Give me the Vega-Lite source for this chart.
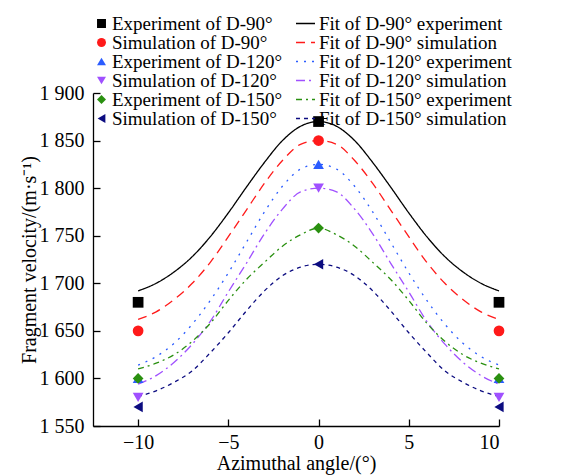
{
  "$schema": "https://vega.github.io/schema/vega-lite/v6.json",
  "width": 406,
  "height": 333,
  "autosize": {"type": "none"},
  "padding": {"left": 93, "top": 93, "right": 80, "bottom": 49},
  "background": "white",
  "config": {
    "font": "Liberation Serif",
    "view": {"stroke": null},
    "axis": {
      "grid": false,
      "domainColor": "black",
      "domainWidth": 1.3,
      "tickColor": "black",
      "tickWidth": 1.3,
      "tickSize": -7,
      "labelColor": "black",
      "titleColor": "black",
      "labelFont": "Liberation Serif",
      "titleFont": "Liberation Serif",
      "labelFontSize": 20,
      "titleFontSize": 20,
      "titleFontWeight": "normal"
    },
    "legend": {
      "orient": "none",
      "labelFont": "Liberation Serif",
      "labelFontSize": 19,
      "labelColor": "black",
      "labelLimit": 400,
      "padding": 0,
      "title": null
    }
  },
  "datasets": {
    "pts": [
      {"angle": -10, "velocity": 1680, "series": "Experiment of D-90°"},
      {"angle": 0, "velocity": 1870, "series": "Experiment of D-90°"},
      {"angle": 10, "velocity": 1680, "series": "Experiment of D-90°"},
      {"angle": -10, "velocity": 1650, "series": "Simulation of D-90°"},
      {"angle": 0, "velocity": 1850, "series": "Simulation of D-90°"},
      {"angle": 10, "velocity": 1650, "series": "Simulation of D-90°"},
      {"angle": -10, "velocity": 1600, "series": "Experiment of D-120°"},
      {"angle": 0, "velocity": 1825, "series": "Experiment of D-120°"},
      {"angle": 10, "velocity": 1600, "series": "Experiment of D-120°"},
      {"angle": -10, "velocity": 1580, "series": "Simulation of D-120°"},
      {"angle": 0, "velocity": 1800, "series": "Simulation of D-120°"},
      {"angle": 10, "velocity": 1580, "series": "Simulation of D-120°"},
      {"angle": -10, "velocity": 1600, "series": "Experiment of D-150°"},
      {"angle": 0, "velocity": 1758, "series": "Experiment of D-150°"},
      {"angle": 10, "velocity": 1600, "series": "Experiment of D-150°"},
      {"angle": -10, "velocity": 1570, "series": "Simulation of D-150°"},
      {"angle": 0, "velocity": 1720, "series": "Simulation of D-150°"},
      {"angle": 10, "velocity": 1570, "series": "Simulation of D-150°"}
    ],
    "fits": [
      {"angle": -10, "velocity": 1692, "fit": "Fit of D-90° experiment"},
      {"angle": -9, "velocity": 1700, "fit": "Fit of D-90° experiment"},
      {"angle": -8, "velocity": 1712, "fit": "Fit of D-90° experiment"},
      {"angle": -7, "velocity": 1728, "fit": "Fit of D-90° experiment"},
      {"angle": -6, "velocity": 1749, "fit": "Fit of D-90° experiment"},
      {"angle": -5, "velocity": 1774, "fit": "Fit of D-90° experiment"},
      {"angle": -4, "velocity": 1801, "fit": "Fit of D-90° experiment"},
      {"angle": -3, "velocity": 1827, "fit": "Fit of D-90° experiment"},
      {"angle": -2, "velocity": 1850, "fit": "Fit of D-90° experiment"},
      {"angle": -1, "velocity": 1865, "fit": "Fit of D-90° experiment"},
      {"angle": 0, "velocity": 1870, "fit": "Fit of D-90° experiment"},
      {"angle": 1, "velocity": 1865, "fit": "Fit of D-90° experiment"},
      {"angle": 2, "velocity": 1850, "fit": "Fit of D-90° experiment"},
      {"angle": 3, "velocity": 1827, "fit": "Fit of D-90° experiment"},
      {"angle": 4, "velocity": 1801, "fit": "Fit of D-90° experiment"},
      {"angle": 5, "velocity": 1774, "fit": "Fit of D-90° experiment"},
      {"angle": 6, "velocity": 1749, "fit": "Fit of D-90° experiment"},
      {"angle": 7, "velocity": 1728, "fit": "Fit of D-90° experiment"},
      {"angle": 8, "velocity": 1712, "fit": "Fit of D-90° experiment"},
      {"angle": 9, "velocity": 1700, "fit": "Fit of D-90° experiment"},
      {"angle": 10, "velocity": 1692, "fit": "Fit of D-90° experiment"},

      {"angle": -10, "velocity": 1662, "fit": "Fit of D-90° simulation"},
      {"angle": -9, "velocity": 1670, "fit": "Fit of D-90° simulation"},
      {"angle": -8, "velocity": 1683, "fit": "Fit of D-90° simulation"},
      {"angle": -7, "velocity": 1700, "fit": "Fit of D-90° simulation"},
      {"angle": -6, "velocity": 1722, "fit": "Fit of D-90° simulation"},
      {"angle": -5, "velocity": 1749, "fit": "Fit of D-90° simulation"},
      {"angle": -4, "velocity": 1777, "fit": "Fit of D-90° simulation"},
      {"angle": -3, "velocity": 1805, "fit": "Fit of D-90° simulation"},
      {"angle": -2, "velocity": 1829, "fit": "Fit of D-90° simulation"},
      {"angle": -1, "velocity": 1846, "fit": "Fit of D-90° simulation"},
      {"angle": 0, "velocity": 1850, "fit": "Fit of D-90° simulation"},
      {"angle": 1, "velocity": 1846, "fit": "Fit of D-90° simulation"},
      {"angle": 2, "velocity": 1829, "fit": "Fit of D-90° simulation"},
      {"angle": 3, "velocity": 1805, "fit": "Fit of D-90° simulation"},
      {"angle": 4, "velocity": 1777, "fit": "Fit of D-90° simulation"},
      {"angle": 5, "velocity": 1749, "fit": "Fit of D-90° simulation"},
      {"angle": 6, "velocity": 1722, "fit": "Fit of D-90° simulation"},
      {"angle": 7, "velocity": 1700, "fit": "Fit of D-90° simulation"},
      {"angle": 8, "velocity": 1683, "fit": "Fit of D-90° simulation"},
      {"angle": 9, "velocity": 1670, "fit": "Fit of D-90° simulation"},
      {"angle": 10, "velocity": 1662, "fit": "Fit of D-90° simulation"},

      {"angle": -10, "velocity": 1614, "fit": "Fit of D-120° experiment"},
      {"angle": -9, "velocity": 1623, "fit": "Fit of D-120° experiment"},
      {"angle": -8, "velocity": 1637, "fit": "Fit of D-120° experiment"},
      {"angle": -7, "velocity": 1657, "fit": "Fit of D-120° experiment"},
      {"angle": -6, "velocity": 1682, "fit": "Fit of D-120° experiment"},
      {"angle": -5, "velocity": 1711, "fit": "Fit of D-120° experiment"},
      {"angle": -4, "velocity": 1743, "fit": "Fit of D-120° experiment"},
      {"angle": -3, "velocity": 1775, "fit": "Fit of D-120° experiment"},
      {"angle": -2, "velocity": 1802, "fit": "Fit of D-120° experiment"},
      {"angle": -1, "velocity": 1820, "fit": "Fit of D-120° experiment"},
      {"angle": 0, "velocity": 1825, "fit": "Fit of D-120° experiment"},
      {"angle": 1, "velocity": 1820, "fit": "Fit of D-120° experiment"},
      {"angle": 2, "velocity": 1802, "fit": "Fit of D-120° experiment"},
      {"angle": 3, "velocity": 1775, "fit": "Fit of D-120° experiment"},
      {"angle": 4, "velocity": 1743, "fit": "Fit of D-120° experiment"},
      {"angle": 5, "velocity": 1711, "fit": "Fit of D-120° experiment"},
      {"angle": 6, "velocity": 1682, "fit": "Fit of D-120° experiment"},
      {"angle": 7, "velocity": 1657, "fit": "Fit of D-120° experiment"},
      {"angle": 8, "velocity": 1637, "fit": "Fit of D-120° experiment"},
      {"angle": 9, "velocity": 1623, "fit": "Fit of D-120° experiment"},
      {"angle": 10, "velocity": 1614, "fit": "Fit of D-120° experiment"},

      {"angle": -10, "velocity": 1594, "fit": "Fit of D-120° simulation"},
      {"angle": -9, "velocity": 1603, "fit": "Fit of D-120° simulation"},
      {"angle": -8, "velocity": 1617, "fit": "Fit of D-120° simulation"},
      {"angle": -7, "velocity": 1636, "fit": "Fit of D-120° simulation"},
      {"angle": -6, "velocity": 1660, "fit": "Fit of D-120° simulation"},
      {"angle": -5, "velocity": 1691, "fit": "Fit of D-120° simulation"},
      {"angle": -4, "velocity": 1721, "fit": "Fit of D-120° simulation"},
      {"angle": -3, "velocity": 1752, "fit": "Fit of D-120° simulation"},
      {"angle": -2, "velocity": 1778, "fit": "Fit of D-120° simulation"},
      {"angle": -1, "velocity": 1796, "fit": "Fit of D-120° simulation"},
      {"angle": 0, "velocity": 1800, "fit": "Fit of D-120° simulation"},
      {"angle": 1, "velocity": 1796, "fit": "Fit of D-120° simulation"},
      {"angle": 2, "velocity": 1778, "fit": "Fit of D-120° simulation"},
      {"angle": 3, "velocity": 1752, "fit": "Fit of D-120° simulation"},
      {"angle": 4, "velocity": 1721, "fit": "Fit of D-120° simulation"},
      {"angle": 5, "velocity": 1691, "fit": "Fit of D-120° simulation"},
      {"angle": 6, "velocity": 1660, "fit": "Fit of D-120° simulation"},
      {"angle": 7, "velocity": 1636, "fit": "Fit of D-120° simulation"},
      {"angle": 8, "velocity": 1617, "fit": "Fit of D-120° simulation"},
      {"angle": 9, "velocity": 1603, "fit": "Fit of D-120° simulation"},
      {"angle": 10, "velocity": 1594, "fit": "Fit of D-120° simulation"},

      {"angle": -10, "velocity": 1610, "fit": "Fit of D-150° experiment"},
      {"angle": -9, "velocity": 1616, "fit": "Fit of D-150° experiment"},
      {"angle": -8, "velocity": 1625, "fit": "Fit of D-150° experiment"},
      {"angle": -7, "velocity": 1639, "fit": "Fit of D-150° experiment"},
      {"angle": -6, "velocity": 1658, "fit": "Fit of D-150° experiment"},
      {"angle": -5, "velocity": 1682, "fit": "Fit of D-150° experiment"},
      {"angle": -4, "velocity": 1704, "fit": "Fit of D-150° experiment"},
      {"angle": -3, "velocity": 1722, "fit": "Fit of D-150° experiment"},
      {"angle": -2, "velocity": 1739, "fit": "Fit of D-150° experiment"},
      {"angle": -1, "velocity": 1751, "fit": "Fit of D-150° experiment"},
      {"angle": 0, "velocity": 1758, "fit": "Fit of D-150° experiment"},
      {"angle": 1, "velocity": 1751, "fit": "Fit of D-150° experiment"},
      {"angle": 2, "velocity": 1739, "fit": "Fit of D-150° experiment"},
      {"angle": 3, "velocity": 1722, "fit": "Fit of D-150° experiment"},
      {"angle": 4, "velocity": 1704, "fit": "Fit of D-150° experiment"},
      {"angle": 5, "velocity": 1682, "fit": "Fit of D-150° experiment"},
      {"angle": 6, "velocity": 1658, "fit": "Fit of D-150° experiment"},
      {"angle": 7, "velocity": 1639, "fit": "Fit of D-150° experiment"},
      {"angle": 8, "velocity": 1625, "fit": "Fit of D-150° experiment"},
      {"angle": 9, "velocity": 1616, "fit": "Fit of D-150° experiment"},
      {"angle": 10, "velocity": 1610, "fit": "Fit of D-150° experiment"},

      {"angle": -10, "velocity": 1581, "fit": "Fit of D-150° simulation"},
      {"angle": -9, "velocity": 1587, "fit": "Fit of D-150° simulation"},
      {"angle": -8, "velocity": 1596, "fit": "Fit of D-150° simulation"},
      {"angle": -7, "velocity": 1608, "fit": "Fit of D-150° simulation"},
      {"angle": -6, "velocity": 1627, "fit": "Fit of D-150° simulation"},
      {"angle": -5, "velocity": 1648, "fit": "Fit of D-150° simulation"},
      {"angle": -4, "velocity": 1671, "fit": "Fit of D-150° simulation"},
      {"angle": -3, "velocity": 1692, "fit": "Fit of D-150° simulation"},
      {"angle": -2, "velocity": 1708, "fit": "Fit of D-150° simulation"},
      {"angle": -1, "velocity": 1717, "fit": "Fit of D-150° simulation"},
      {"angle": 0, "velocity": 1720, "fit": "Fit of D-150° simulation"},
      {"angle": 1, "velocity": 1717, "fit": "Fit of D-150° simulation"},
      {"angle": 2, "velocity": 1708, "fit": "Fit of D-150° simulation"},
      {"angle": 3, "velocity": 1692, "fit": "Fit of D-150° simulation"},
      {"angle": 4, "velocity": 1671, "fit": "Fit of D-150° simulation"},
      {"angle": 5, "velocity": 1648, "fit": "Fit of D-150° simulation"},
      {"angle": 6, "velocity": 1627, "fit": "Fit of D-150° simulation"},
      {"angle": 7, "velocity": 1608, "fit": "Fit of D-150° simulation"},
      {"angle": 8, "velocity": 1596, "fit": "Fit of D-150° simulation"},
      {"angle": 9, "velocity": 1587, "fit": "Fit of D-150° simulation"},
      {"angle": 10, "velocity": 1581, "fit": "Fit of D-150° simulation"}
    ]
  },
  "layer": [
    {
      "data": {"name": "fits"},
      "mark": {"type": "line", "interpolate": "monotone", "strokeWidth": 1.3, "clip": false},
      "encoding": {
        "x": {
          "field": "angle", "type": "quantitative",
          "scale": {"domain": [-12.5, 10], "nice": false, "zero": false},
          "axis": {"values": [-10, -5, 0, 5, 10], "title": "Azimuthal angle/(°)", "tickSize": -7, "labelPadding": 13, "titlePadding": 1}
        },
        "y": {
          "field": "velocity", "type": "quantitative",
          "scale": {"domain": [1550, 1900], "nice": false, "zero": false},
          "axis": {"values": [1550, 1600, 1650, 1700, 1750, 1800, 1850, 1900], "labelExpr": "replace(format(datum.value, ','), ',', ' ')", "title": "Fragment velocity/(m·s⁻¹)", "tickSize": -7, "labelPadding": 16, "titlePadding": 0}
        },
        "color": {
          "field": "fit", "type": "nominal",
          "scale": {
            "domain": ["Fit of D-90° experiment", "Fit of D-90° simulation", "Fit of D-120° experiment", "Fit of D-120° simulation", "Fit of D-150° experiment", "Fit of D-150° simulation"],
            "range": ["#000000", "#ff1a1a", "#2b5cff", "#a050ff", "#2a9010", "#0c0c80"]
          },
          "legend": {"orient": "none", "legendX": 202, "legendY": -78, "symbolSize": 361, "symbolStrokeWidth": 1.3, "symbolType": "stroke", "labelOffset": 3, "rowPadding": -6, "clipHeight": 17}
        },
        "strokeDash": {
          "field": "fit", "type": "nominal",
          "scale": {
            "domain": ["Fit of D-90° experiment", "Fit of D-90° simulation", "Fit of D-120° experiment", "Fit of D-120° simulation", "Fit of D-150° experiment", "Fit of D-150° simulation"],
            "range": [[1, 0], [9, 6], [2, 6], [9, 4, 2, 4], [6, 4, 2, 4], [4, 4]]
          },
          "legend": {"orient": "none", "legendX": 202, "legendY": -78, "symbolSize": 361, "symbolStrokeWidth": 1.3, "symbolType": "stroke", "labelOffset": 3, "rowPadding": -6, "clipHeight": 17}
        }
      }
    },
    {
      "data": {"name": "pts"},
      "mark": {"type": "point", "filled": true, "size": 115, "opacity": 1, "clip": false},
      "encoding": {
        "x": {"field": "angle", "type": "quantitative"},
        "y": {"field": "velocity", "type": "quantitative"},
        "color": {
          "field": "series", "type": "nominal",
          "scale": {
            "domain": ["Experiment of D-90°", "Simulation of D-90°", "Experiment of D-120°", "Simulation of D-120°", "Experiment of D-150°", "Simulation of D-150°"],
            "range": ["#000000", "#ff1a1a", "#2b5cff", "#a050ff", "#2a9010", "#0c0c80"]
          },
          "legend": {"orient": "none", "legendX": -1, "legendY": -78, "symbolSize": 80, "labelOffset": 1, "rowPadding": -6, "clipHeight": 17}
        },
        "shape": {
          "field": "series", "type": "nominal",
          "scale": {
            "domain": ["Experiment of D-90°", "Simulation of D-90°", "Experiment of D-120°", "Simulation of D-120°", "Experiment of D-150°", "Simulation of D-150°"],
            "range": ["square", "circle", "triangle-up", "triangle-down", "diamond", "triangle-left"]
          },
          "legend": {"orient": "none", "legendX": -1, "legendY": -78, "symbolSize": 80, "labelOffset": 1, "rowPadding": -6, "clipHeight": 17}
        }
      }
    }
  ],
  "resolve": {
    "scale": {"color": "independent", "strokeDash": "independent", "shape": "independent"},
    "legend": {"color": "independent", "strokeDash": "independent", "shape": "independent"}
  }
}
